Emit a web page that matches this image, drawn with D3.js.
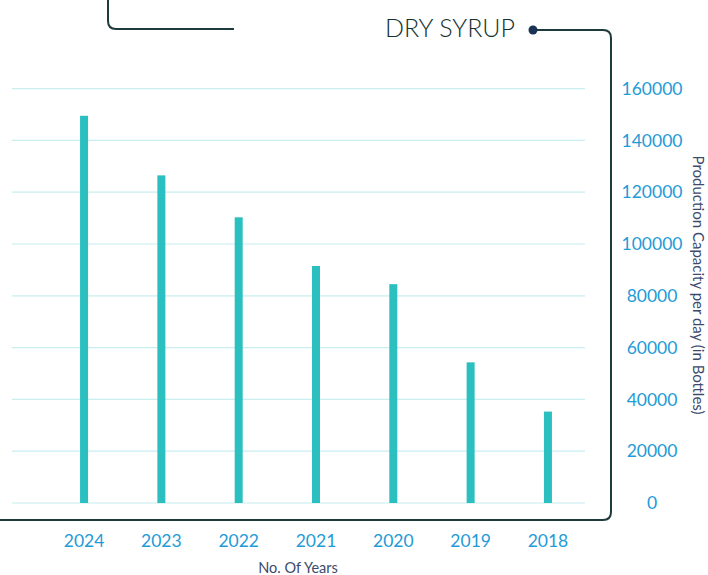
<!DOCTYPE html>
<html>
<head>
<meta charset="utf-8">
<script src="https://cdn.jsdelivr.net/npm/d3@7"></script>
<style>
  html, body { margin: 0; padding: 0; background: #fff; }
  svg { display: block; }
</style>
</head>
<body>
<div id="chart"></div>
<script>
// Dry syrup production capacity by year
const years = ["2024", "2023", "2022", "2021", "2020", "2019", "2018"];
const capacity = [149500, 126500, 110300, 91500, 84500, 54300, 35300];
const yTicks = [0, 20000, 40000, 60000, 80000, 100000, 120000, 140000, 160000];

(function () {
  const W = 708, H = 575;
  const font = "Lato, 'Open Sans', sans-serif";
  const frameColor = "#1d3b3c";

  const svg = d3.select("#chart").append("svg")
    .attr("width", W)
    .attr("height", H);

  // scales
  const x = d3.scaleBand()
    .domain(years)
    .range([45.4, 586.6]);

  const y = d3.scaleLinear()
    .domain([0, 160000])
    .range([503, 88.6]);

  // gridlines
  svg.append("g")
    .selectAll("line")
    .data(yTicks)
    .join("line")
    .attr("x1", 12)
    .attr("x2", 585)
    .attr("y1", d => y(d))
    .attr("y2", d => y(d))
    .attr("stroke", "#c8eef0")
    .attr("stroke-width", 1.2);

  // bars
  const barW = 8;
  svg.append("g")
    .selectAll("rect")
    .data(capacity)
    .join("rect")
    .attr("x", (d, i) => x(years[i]) + x.bandwidth() / 2 - barW / 2)
    .attr("y", d => y(d))
    .attr("width", barW)
    .attr("height", d => y(0) - y(d))
    .attr("fill", "#2bbfc0");

  // y axis labels on the right (centred)
  const yAxis = d3.axisRight(y).tickValues(yTicks).tickSize(0).tickPadding(0)
    .tickFormat(d3.format("d"));
  const gy = svg.append("g")
    .attr("transform", "translate(652,0)")
    .call(yAxis);
  gy.select(".domain").remove();
  gy.selectAll("text")
    .attr("text-anchor", "middle")
    .attr("x", 0)
    .attr("font-family", font)
    .attr("font-size", 17.5)
    .attr("fill", "#1f9bd7");

  // x axis labels
  const xAxis = d3.axisBottom(x).tickSize(0).tickPadding(0);
  const gx = svg.append("g")
    .attr("transform", "translate(0,535)")
    .call(xAxis);
  gx.select(".domain").remove();
  gx.selectAll("text")
    .attr("font-family", font)
    .attr("font-size", 17.5)
    .attr("fill", "#1f9bd7");

  // axis titles
  svg.append("text")
    .attr("x", 298)
    .attr("y", 573)
    .attr("text-anchor", "middle")
    .attr("font-family", font)
    .attr("font-size", 14.5)
    .attr("fill", "#3b4a6b")
    .text("No. Of Years");

  svg.append("text")
    .attr("transform", "translate(693,285) rotate(90)")
    .attr("text-anchor", "middle")
    .attr("font-family", font)
    .attr("font-size", 15)
    .attr("fill", "#3b4a6b")
    .text("Production Capacity per day (in Bottles)");

  // decorative frame
  const r = 8;
  svg.append("path")
    .attr("d", `M533,30 H${611 - r} Q611,30 611,${30 + r} V${520 - r} Q611,520 ${611 - r},520 H0`)
    .attr("fill", "none")
    .attr("stroke", frameColor)
    .attr("stroke-width", 2);

  svg.append("path")
    .attr("d", `M108,0 V${29 - r} Q108,29 ${108 + r},29 H234`)
    .attr("fill", "none")
    .attr("stroke", frameColor)
    .attr("stroke-width", 2);

  svg.append("circle")
    .attr("cx", 533)
    .attr("cy", 30)
    .attr("r", 4.5)
    .attr("fill", "#1b3355");

  // title
  svg.append("text")
    .attr("x", 515)
    .attr("y", 37)
    .attr("text-anchor", "end")
    .attr("font-family", font)
    .attr("font-weight", 300)
    .attr("font-size", 25)
    .attr("fill", "#14302f")
    .text("DRY SYRUP");
})();
</script>
</body>
</html>
